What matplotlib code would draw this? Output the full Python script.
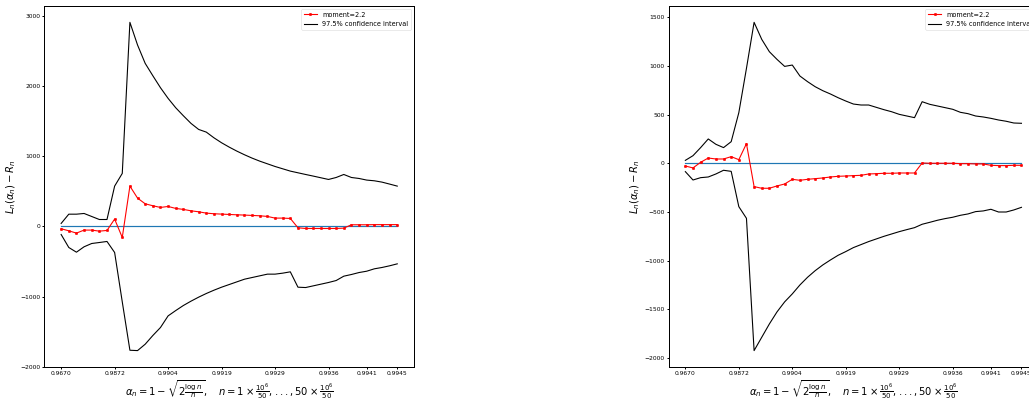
import matplotlib
matplotlib.use("Agg")
import matplotlib.pyplot as plt
import numpy as np

# x positions are the sample indices; ticks are labelled with alpha_n values
tick_idx = [0, 7, 14, 21, 28, 35, 40, 44]
tick_labels = ["0.9670", "0.9872", "0.9904", "0.9919", "0.9929", "0.9936", "0.9941", "0.9945"]

# left panel
left_moment = [-33, -62, -95, -52, -52, -67, -57, 105, -157, 575,
               404, 323, 295, 271, 285, 257, 243, 223, 209, 190,
               181, 176, 171, 166, 162, 157, 152, 143, 119, 119,
               114, -19, -29, -29, -29, -29, -29, -24, 24, 24,
               24, 26, 26, 26, 26]
left_upper = [43, 175, 175, 185, 142, 99, 99, 575, 756, 2910,
              2587, 2325, 2149, 1978, 1826, 1692, 1578, 1469, 1383, 1345,
              1264, 1193, 1131, 1074, 1022, 974, 931, 893, 855, 822,
              789, 765, 741, 718, 694, 670, 698, 741, 698, 684,
              661, 651, 632, 604, 575]
left_lower = [-115, -300, -367, -290, -243, -229, -214, -371, -1075, -1765,
              -1770, -1679, -1555, -1441, -1275, -1199, -1127, -1065, -1008, -956,
              -909, -866, -828, -790, -752, -728, -704, -680, -680, -666,
              -647, -866, -871, -847, -823, -799, -771, -709, -685, -657,
              -638, -604, -585, -561, -533]

# right panel
right_moment = [-28, -48, 10, 54, 44, 44, 68, 37, 202, -240,
                -257, -257, -233, -213, -165, -175, -165, -158, -151, -141,
                -134, -131, -127, -124, -110, -107, -103, -103, -100, -100,
                -100, 3, 0, 0, 0, 0, -4, -4, -7, -7,
                -21, -24, -24, -21, -21]
right_upper = [30, 78, 161, 250, 195, 161, 222, 520, 976, 1449,
               1274, 1147, 1068, 996, 1010, 897, 839, 787, 746, 712,
               674, 640, 609, 599, 599, 575, 551, 530, 503, 486,
               469, 633, 606, 589, 572, 555, 524, 510, 486, 476,
               462, 445, 432, 414, 411]
right_lower = [-86, -172, -148, -141, -110, -72, -83, -446, -566, -1926,
               -1789, -1652, -1528, -1425, -1343, -1251, -1172, -1104, -1045, -994,
               -946, -908, -867, -836, -805, -778, -751, -727, -703, -682,
               -662, -627, -607, -586, -569, -555, -535, -521, -497, -490,
               -473, -501, -501, -480, -453]

dpi = 36
plt.rcParams.update({
    "axes.linewidth": 2.0,
    "xtick.major.width": 2.0,
    "ytick.major.width": 2.0,
    "xtick.major.size": 4.5,
    "ytick.major.size": 4.5,
    "xtick.labelsize": 12,
    "ytick.labelsize": 12,
})
fig = plt.figure(figsize=(1029 / dpi, 403 / dpi), dpi=dpi)

xlabel = (r"$\alpha_n = 1-\sqrt{2\frac{\log n}{n}},\quad "
          r"n = 1\times\frac{10^6}{50},...,50\times\frac{10^6}{50}$")
ylabel = r"$L_n(\alpha_n) - R_n$"


def panel(ax, moment, upper, lower):
    x = np.arange(len(moment))
    ax.plot(x, np.zeros(len(x)), lw=2.4)
    ax.plot(x, moment, "r.-", lw=2.2, ms=10, label="moment=2.2")
    ax.plot(x, upper, "k-", lw=2.2, label="97.5% confidence interval")
    ax.plot(x, lower, "k-", lw=2.2)
    ax.set_xticks(tick_idx)
    ax.set_xticklabels(tick_labels)
    ax.set_xlabel(xlabel, fontsize=20)
    ax.set_ylabel(ylabel, fontsize=20)
    ax.legend(loc="upper right", fontsize=13)


ax1 = fig.add_axes([0.0431, 0.0893, 0.3593, 0.8960])
ax2 = fig.add_axes([0.6497, 0.0893, 0.3593, 0.8960])
panel(ax1, left_moment, left_upper, left_lower)
panel(ax2, right_moment, right_upper, right_lower)

fig.savefig("out.png", dpi=dpi)
